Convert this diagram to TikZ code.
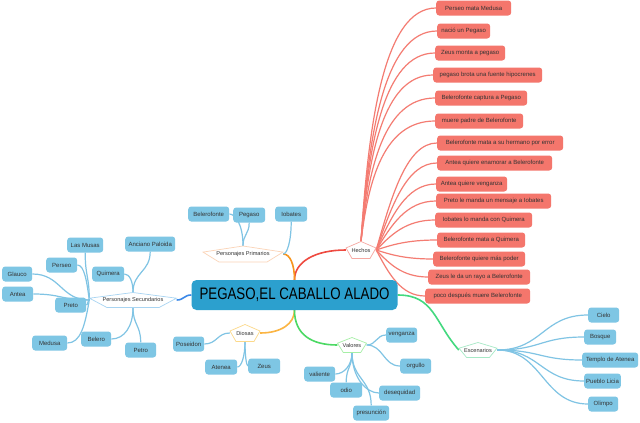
\documentclass[tikz,border=0pt]{standalone}
\usepackage{fontspec}
\setmainfont{Liberation Sans}
\usepackage{graphicx}
\usetikzlibrary{calc}
\pgfdeclarelayer{bg}
\pgfsetlayers{bg,main}
\definecolor{cblue}{HTML}{2CA0CE}
\definecolor{lblue}{HTML}{7EC6E4}
\definecolor{lline}{HTML}{80C4E4}
\definecolor{salmon}{HTML}{F4766C}
\definecolor{sline}{HTML}{F47C72}
\definecolor{redA}{HTML}{EE4A40}
\definecolor{orng}{HTML}{F7941D}
\definecolor{yel}{HTML}{FBB543}
\definecolor{grn}{HTML}{4CD964}
\definecolor{grnB}{HTML}{43D97F}
\definecolor{blB}{HTML}{3B88E8}
\definecolor{txt}{HTML}{333333}
\definecolor{pkH}{HTML}{F6A8A2}
\definecolor{pkPP}{HTML}{FBD4B8}
\definecolor{pkPS}{HTML}{A8D4F2}
\definecolor{pkD}{HTML}{FCD98A}
\definecolor{pkV}{HTML}{A6EFA6}
\definecolor{pkE}{HTML}{A6E9C6}
\tikzset{
  leafbox/.style={rounded corners=3pt, inner xsep=2pt, inner ysep=0pt, minimum height=15pt,
    text=txt, font=\fontsize{6}{7}\selectfont},
  bluebox/.style={leafbox, fill=lblue},
  redbox/.style={leafbox, fill=salmon},
  ptext/.style={inner sep=0pt, text=txt, font=\fontsize{5.6}{6.5}\selectfont},
  central/.style={rounded corners=5pt, fill=cblue, text=black, minimum width=206pt,
    minimum height=30pt, inner sep=0pt, font=\fontsize{13.3}{15}\selectfont},
  bline/.style={draw=lline, line width=1.2pt},
  rline/.style={draw=sline, line width=1.2pt},
  mainline/.style={line width=1.6pt}
}
\newcommand\leaf[6]{\node[#1, minimum width=#4pt, anchor=west] (#2) at (#3,#5) {#6};}
\newcommand\pent[7]{%
  \draw[draw=#6, fill=white, line width=0.7pt] (#2,{#3-#5/2}) -- ({#2+#4/2},{#3-#5/2+0.38*#5})
   -- ({#2+0.3*#4},{#3+#5/2}) -- ({#2-0.3*#4},{#3+#5/2}) -- ({#2-#4/2},{#3-#5/2+0.38*#5}) -- cycle;
  \node[ptext, minimum width=#4pt, minimum height=#5pt] (#1) at (#2,#3) {#7};}
\newcommand\cc[7]{%
  \draw[#1] let \p1=(#2), \p2=(#3) in (\p1) .. controls ({\x1+#4*(\x2-\x1)},{\y1+#5*(\y2-\y1)})
    and ({\x2-#6*(\x2-\x1)},{\y2-#7*(\y2-\y1)}) .. (\p2);}
\begin{document}
\begin{tikzpicture}[x=1pt,y=-1pt]
\useasboundingbox (0,0) rectangle (640,423);
\begin{pgfonlayer}{bg}
\fill[white] (0,0) rectangle (640,423);
\end{pgfonlayer}
% central
\node[central] (c) at (294.5,295) {\scalebox{1}[1.25]{PEGASO,EL CABALLO ALADO}};
% pentagons
\pent{hechos}{361}{250}{30}{17}{pkH}{Hechos}
\pent{pp}{243}{254}{80}{16}{pkPP}{Personajes Primarios}
\pent{ps}{133}{300}{87}{15}{pkPS}{Personajes Secundarios}
\pent{dio}{245}{333}{30}{17}{pkD}{Diosas}
\pent{val}{352}{345}{29}{15}{pkV}{Valores}
\pent{esc}{478}{350}{38}{15}{pkE}{Escenarios}
% Hechos
\leaf{redbox}{h1}{436}{75}{8}{Perseo mata Medusa}
\leaf{redbox}{h2}{437}{53}{31}{nació un Pegaso}
\leaf{redbox}{h3}{435}{70}{53}{Zeus monta a pegaso}
\leaf{redbox}{h4}{433}{109}{75}{pegaso brota una fuente hipocrenes}
\leaf{redbox}{h5}{435}{92}{98}{Belerofonte captura a Pegaso}
\leaf{redbox}{h6}{435}{88}{121}{muere padre de Belerofonte}
\leaf{redbox}{h7}{437}{126}{143}{Belerofonte mata a su hermano por error}
\leaf{redbox}{h8}{437}{115}{163}{Antea quiere enamorar a Belerofonte}
\leaf{redbox}{h9}{436}{71}{184}{Antea quiere venganza}
\leaf{redbox}{h10}{436}{115}{201}{Preto le manda un mensaje a Iobates}
\leaf{redbox}{h11}{435}{97}{220}{Iobates lo manda con Quimera}
\leaf{redbox}{h12}{437}{88}{240}{Belerofonte mata a Quimera}
\leaf{redbox}{h13}{433}{92}{259}{Belerofonte quiere más poder}
\leaf{redbox}{h14}{428}{102}{277}{Zeus le da un rayo a Belerofonte}
\leaf{redbox}{h15}{425}{105}{296}{poco después muere Belerofonte}
% Personajes Primarios
\leaf{bluebox}{p1}{188}{41}{214}{Belerofonte}
\leaf{bluebox}{p2}{233}{32}{215}{Pegaso}
\leaf{bluebox}{p3}{275}{32}{214}{Iobates}
% Personajes Secundarios
\leaf{bluebox}{s1}{67}{36}{245}{Las Musas}
\leaf{bluebox}{s2}{125}{50}{244}{Anciano Paloida}
\leaf{bluebox}{s3}{46}{31}{265}{Perseo}
\leaf{bluebox}{s4}{92}{32}{274}{Quimera}
\leaf{bluebox}{s5}{2}{30}{274}{Glauco}
\leaf{bluebox}{s6}{2}{31}{294}{Antea}
\leaf{bluebox}{s7}{55}{31}{305}{Preto}
\leaf{bluebox}{s8}{32}{35}{343}{Medusa}
\leaf{bluebox}{s9}{81}{30}{339}{Belero}
\leaf{bluebox}{s10}{125}{31}{350}{Petro}
% Diosas
\leaf{bluebox}{d1}{173}{31}{344}{Poseidon}
\leaf{bluebox}{d2}{205}{32}{367}{Atenea}
\leaf{bluebox}{d3}{248}{32}{366}{Zeus}
% Valores
\leaf{bluebox}{v1}{386}{31}{335}{venganza}
\leaf{bluebox}{v2}{400}{31}{366}{orgullo}
\leaf{bluebox}{v3}{304}{31}{374}{valiente}
\leaf{bluebox}{v4}{330}{32}{390}{odio}
\leaf{bluebox}{v5}{379}{41}{393}{desequidad}
\leaf{bluebox}{v6}{353}{36}{413}{presunción}
% Escenarios
\leaf{bluebox}{e1}{588}{31}{315}{Cielo}
\leaf{bluebox}{e2}{584}{32}{337}{Bosque}
\leaf{bluebox}{e3}{582}{56}{360}{Templo de Atenea}
\leaf{bluebox}{e4}{584}{31}{381}{Pueblo Licia}
\leaf{bluebox}{e5}{588}{30}{404}{Olimpo}
% connectors
\begin{pgfonlayer}{bg}
% main branches
\cc{mainline,draw=redA}{c.north}{hechos.west}{0}{0.6}{0.6}{0}
\cc{mainline,draw=orng}{c.north}{pp.east}{0}{0.6}{0.6}{0}
\cc{mainline,draw=blB}{c.west}{ps.east}{0.5}{0}{0.5}{0}
\cc{mainline,draw=grnB}{c.east}{esc.west}{0.6}{0}{0.4}{0.5}
\cc{mainline,draw=yel}{c.south}{dio.east}{0}{0.6}{0.6}{0}
\cc{mainline,draw=grn}{c.south}{val.west}{0}{0.7}{0.6}{0}
% Hechos
\foreach \hh in {h1,h2,h3,h4,h5,h6}{\cc{rline}{hechos.north}{\hh.west}{0.1}{0.5}{0.7}{0}}
\foreach \hh in {h7,h8,h9,h10,h11,h12,h13,h14,h15}{\cc{rline}{hechos.east}{\hh.west}{0.25}{0.5}{0.5}{0}}
% Personajes Primarios
\cc{bline}{pp.north}{p1.east}{0}{0.7}{0.4}{0}
\cc{bline}{pp.north}{p2.south}{0}{0.5}{0}{0.5}
\cc{bline}{pp.east}{p3.south}{0.5}{0}{0}{0.6}
% Personajes Secundarios
\cc{bline}{ps.west}{s1.south}{0}{0.5}{0}{0.5}
\cc{bline}{ps.west}{s3.east}{0.2}{0.5}{0.6}{0}
\cc{bline}{ps.west}{s5.east}{0.5}{0}{0.5}{0}
\cc{bline}{ps.west}{s6.east}{0.5}{0}{0.5}{0}
\cc{bline}{ps.west}{s7.east}{0.5}{0}{0.5}{0}
\cc{bline}{ps.west}{s8.east}{0.2}{0.6}{0.6}{0}
\cc{bline}{ps.north}{s4.east}{0}{0.6}{0.6}{0}
\cc{bline}{ps.north}{s2.south}{0}{0.5}{0}{0.5}
\cc{bline}{ps.south}{s9.east}{0}{0.6}{0.6}{0}
\cc{bline}{ps.south}{s10.north}{0}{0.5}{0}{0.5}
% Diosas
\cc{bline}{dio.west}{d1.east}{0.5}{0}{0.5}{0}
\cc{bline}{dio.south}{d2.east}{0}{0.6}{0.5}{0}
\cc{bline}{dio.south}{d3.west}{0}{0.6}{0.5}{0}
% Valores
\cc{bline}{val.east}{v1.west}{0.5}{0}{0.5}{0}
\cc{bline}{val.east}{v2.west}{0.5}{0}{0.5}{0}
\cc{bline}{val.south}{v3.east}{0}{0.6}{0.5}{0}
\cc{bline}{val.south}{v4.north}{0}{0.5}{0}{0.5}
\cc{bline}{val.south}{v5.west}{0}{0.6}{0.5}{0}
\cc{bline}{val.south}{v6.north}{0}{0.5}{0}{0.5}
% Escenarios
\foreach \hh in {e1,e2,e3,e4,e5}{\cc{bline}{esc.east}{\hh.west}{0.5}{0}{0.5}{0}}
\end{pgfonlayer}
\end{tikzpicture}
\end{document}
